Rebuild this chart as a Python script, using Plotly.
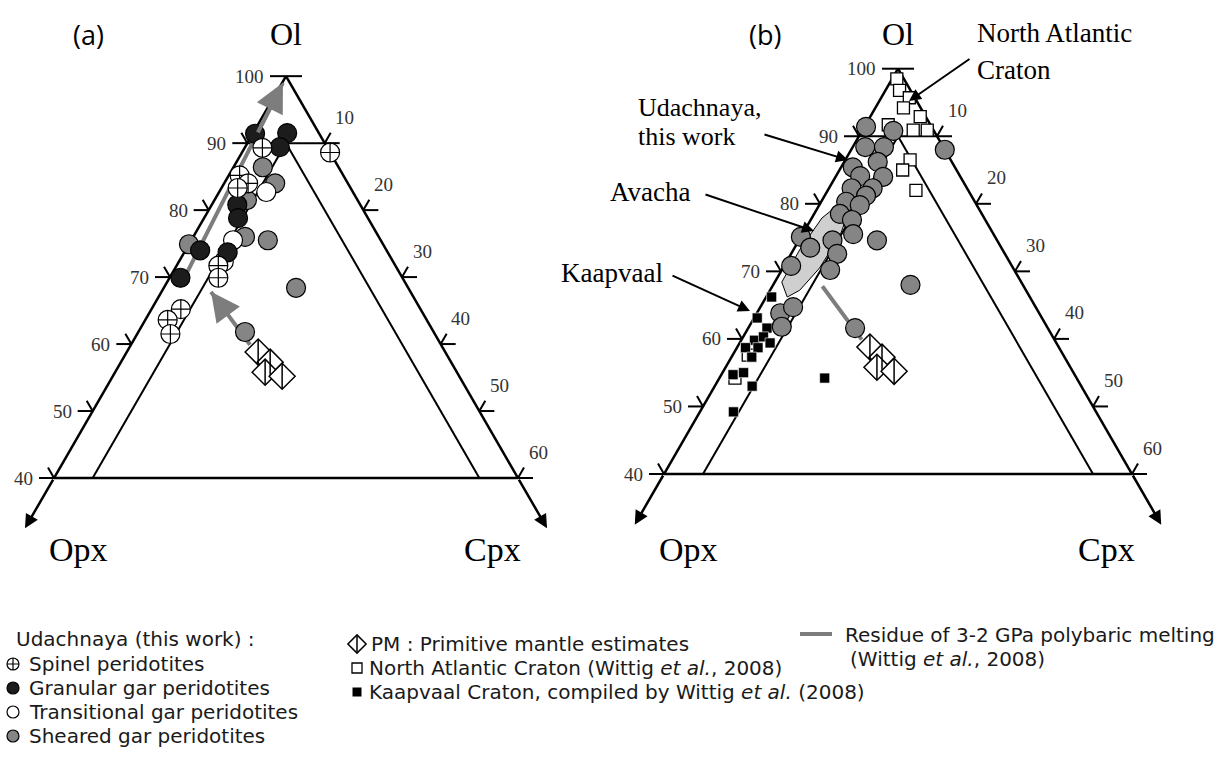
import math
import plotly.graph_objects as go

FIG_W, FIG_H = 1228, 771

# ---------------- data: modal proportions (%) Ol / Opx / Cpx ----------------
# Panel (a): Udachnaya xenoliths by textural group
spinel_ol = [89.3, 85.2, 84.0, 83.3, 88.6, 71.7, 69.9, 65.2, 63.6, 61.5]
spinel_opx = [8.4, 13.4, 12.9, 14.6, 0.0, 22.9, 23.8, 31.0, 33.5, 34.2]
spinel_cpx = [2.3, 1.4, 3.1, 2.1, 11.4, 5.4, 6.3, 3.8, 2.9, 4.3]

granular_ol = [91.4, 91.5, 89.4, 80.8, 78.8, 74.0, 73.7, 69.9]
granular_opx = [8.3, 4.1, 6.1, 15.9, 16.8, 24.1, 20.7, 28.7]
granular_cpx = [0.3, 4.4, 4.5, 3.3, 4.4, 1.9, 5.6, 1.4]

transitional_ol = [82.7, 75.5, 72.3]
transitional_opx = [11.2, 19.1, 21.9]
transitional_cpx = [6.1, 5.4, 5.8]

sheared_ol = [84.0, 86.4, 81.5, 76.0, 75.5, 74.9, 68.4, 61.8]
sheared_opx = [9.4, 9.8, 14.3, 17.3, 14.6, 25.1, 14.5, 24.4]
sheared_cpx = [6.6, 3.8, 4.2, 6.7, 9.9, 0.0, 17.1, 13.8]

# Primitive mantle estimates
pm_ol = [58.8, 57.3, 55.8, 55.2]
pm_opx = [24.2, 23.4, 24.8, 22.9]
pm_cpx = [17.0, 19.3, 19.4, 21.9]

# Residue of 3-2 GPa polybaric melting (two arrowed legs)
residue1_ol = [59.9, 67.8]
residue1_opx = [24.7, 25.8]
residue1_cpx = [15.4, 6.4]
residue2_ol = [68.5, 99.0]
residue2_opx = [29.5, 0.9]
residue2_cpx = [2.0, 0.1]

# Panel (b): Udachnaya (all groups), North Atlantic, Kaapvaal, Avacha field
udach_ol = [91.4, 90.8, 88.4, 88.4, 86.2, 85.4, 84.1, 84.0, 82.3, 82.3, 81.2, 80.3, 78.5, 79.8, 77.6,
            75.1, 73.5, 74.6, 75.5, 74.6, 72.6, 70.8, 70.2, 63.8, 64.7, 61.8, 61.6, 68.0, 88.0]
udach_opx = [8.4, 5.2, 10.0, 7.6, 9.5, 13.1, 12.8, 9.9, 12.1, 14.8, 13.5, 16.5, 18.2, 15.0, 17.1,
             24.9, 24.5, 21.1, 18.0, 15.4, 21.5, 28.3, 23.6, 33.2, 31.1, 34.0, 24.7, 14.4, 0.0]
udach_cpx = [0.2, 4.0, 1.6, 4.0, 4.3, 1.5, 3.1, 6.1, 5.6, 2.9, 5.3, 3.2, 3.3, 5.2, 5.3,
             0.0, 2.0, 4.3, 6.5, 10.0, 5.9, 0.9, 6.2, 3.0, 4.2, 4.2, 13.7, 17.6, 12.0]

nac_ol = [98.5, 96.8, 95.7, 94.2, 92.9, 90.9, 90.9, 91.7, 86.5, 85.0, 82.0, 57.6, 54.2]
nac_opx = [0.9, 1.4, 0.7, 2.2, 0.7, 2.6, 0.8, 5.4, 5.2, 6.9, 6.7, 40.4, 43.8]
nac_cpx = [0.6, 1.8, 3.6, 3.6, 6.4, 6.5, 8.3, 2.9, 8.3, 8.1, 11.3, 2.0, 2.0]

kaap_ol = [66.2, 63.1, 61.6, 59.8, 60.3, 59.4, 58.7, 58.7, 57.3, 54.7, 55.0, 53.0, 49.2, 54.2]
kaap_opx = [33.1, 36.5, 36.0, 38.5, 37.1, 36.7, 40.2, 38.6, 40.1, 43.8, 42.3, 42.2, 46.5, 32.3]
kaap_cpx = [0.7, 0.4, 2.4, 1.7, 2.6, 3.9, 1.1, 2.7, 2.6, 1.5, 2.7, 4.8, 4.3, 13.5]

avacha_ol = [66.2, 68.4, 73.2, 77.9, 79.8, 78.6, 75.4, 70.5, 67.2, 66.2]
avacha_opx = [31.1, 30.7, 26.0, 20.8, 17.8, 17.1, 19.7, 24.8, 29.0, 31.1]
avacha_cpx = [2.7, 0.9, 0.8, 1.3, 2.4, 4.3, 4.9, 4.7, 3.8, 2.7]

# Classification boundaries (dunite, harzburgite|lherzolite, lherzolite|wehrlite)
dunite_ol, dunite_opx, dunite_cpx = [90, 90], [10, 0], [0, 10]
harz_ol, harz_opx, harz_cpx = [90, 40], [5, 55], [5, 5]
wehr_ol, wehr_opx, wehr_cpx = [90, 40], [5, 5], [5, 55]

ol_ticks = [40, 50, 60, 70, 80, 90, 100]
cpx_ticks = [10, 20, 30, 40, 50, 60]

# ---------------- geometry of the two truncated triangles (pixels) ----------------
PANELS = {
    "ternary": dict(x0=54.0, y0=478.0, w=464.0),
    "ternary2": dict(x0=664.0, y0=474.0, w=468.0),
}


def geom(name):
    p = PANELS[name]
    h = p["w"] * math.sqrt(3) / 2
    return dict(bl=(p["x0"], p["y0"]), br=(p["x0"] + p["w"], p["y0"]),
                top=(p["x0"] + p["w"] / 2, p["y0"] - h), h=h, w=p["w"])


def to_px(name, ol, opx, cpx):
    """Ternary point (Ol axis 40-100) -> overlay pixel coordinates."""
    g = geom(name)
    s = ol + opx + cpx
    ol, opx, cpx = 100 * ol / s, 100 * opx / s, 100 * cpx / s
    wa, wb, wc = (ol - 40) / 60, opx / 60, cpx / 60
    x = wa * g["top"][0] + wb * g["bl"][0] + wc * g["br"][0]
    y = wa * g["top"][1] + wb * g["bl"][1] + wc * g["br"][1]
    return x, y


SERIF = "Liberation Serif"
SANS = "Open Sans"
KEY_FONT = "DejaVu Sans"
GRAY_LINE = "#7d7d7d"
GRAY_DOT = "#858585"

fig = go.Figure()


def tern(name, a, b, c, **kw):
    fig.add_trace(go.Scatterternary(subplot=name, a=a, b=b, c=c, cliponaxis=False,
                                    hoverinfo="skip", showlegend=False, **kw))


def field_lines(name):
    for a, b, c in [(dunite_ol, dunite_opx, dunite_cpx), (harz_ol, harz_opx, harz_cpx),
                    (wehr_ol, wehr_opx, wehr_cpx)]:
        tern(name, a, b, c, mode="lines", line=dict(color="black", width=2))


def pm_marks(name):
    tern(name, pm_ol, pm_opx, pm_cpx, mode="markers",
         marker=dict(symbol="diamond", size=20, color="white", line=dict(color="black", width=1.5)))
    tern(name, pm_ol, pm_opx, pm_cpx, mode="markers",
         marker=dict(symbol="line-ns", size=18, line=dict(color="black", width=1.5)))


circle = dict(size=19, line=dict(color="black", width=1.2))

# ---- panel (a)
field_lines("ternary")
tern("ternary", residue1_ol, residue1_opx, residue1_cpx, mode="lines", line=dict(color=GRAY_LINE, width=4))
tern("ternary", residue2_ol, residue2_opx, residue2_cpx, mode="lines", line=dict(color=GRAY_LINE, width=4))
pm_marks("ternary")
tern("ternary", sheared_ol, sheared_opx, sheared_cpx, mode="markers",
     marker=dict(symbol="circle", color=GRAY_DOT, **circle))
tern("ternary", transitional_ol, transitional_opx, transitional_cpx, mode="markers",
     marker=dict(symbol="circle", color="white", **circle))
tern("ternary", granular_ol, granular_opx, granular_cpx, mode="markers",
     marker=dict(symbol="circle", color="#1c1c1c", **circle))
tern("ternary", spinel_ol, spinel_opx, spinel_cpx, mode="markers",
     marker=dict(symbol="circle-cross", color="white", **circle))

# ---- panel (b)
field_lines("ternary2")
tern("ternary2", avacha_ol, avacha_opx, avacha_cpx, mode="lines", fill="toself",
     fillcolor="#cfcfcf", line=dict(color="black", width=1))
tern("ternary2", nac_ol, nac_opx, nac_cpx, mode="markers",
     marker=dict(symbol="square", size=12, color="white", line=dict(color="black", width=1.3)))
tern("ternary2", kaap_ol, kaap_opx, kaap_cpx, mode="markers",
     marker=dict(symbol="square", size=10, color="black", line=dict(color="white", width=0.6)))
tern("ternary2", residue1_ol, residue1_opx, residue1_cpx, mode="lines", line=dict(color=GRAY_LINE, width=4))
tern("ternary2", udach_ol, udach_opx, udach_cpx, mode="markers",
     marker=dict(symbol="circle", color=GRAY_DOT, **circle))
pm_marks("ternary2")

# ---------------- axes decorations: ticks, labels, arrows ----------------
shapes, annotations = [], []
TICK, BARB = 15, 12


def seg(p, q, width=2, color="black"):
    shapes.append(dict(type="line", xref="x", yref="y", x0=p[0], y0=p[1], x1=q[0], y1=q[1],
                       line=dict(color=color, width=width), layer="above"))


def text(x, y, s, size, family=SERIF, anchor="center", color="black"):
    annotations.append(dict(x=x, y=y, xref="x", yref="y", text=s, showarrow=False,
                            xanchor=anchor, yanchor="middle",
                            font=dict(family=family, size=size, color=color)))


def arrow(tail, tip, width=2, color="black", head=2, size=1.0):
    annotations.append(dict(x=tip[0], y=tip[1], ax=tail[0], ay=tail[1], xref="x", yref="y",
                            axref="x", ayref="y", text="", showarrow=True, arrowhead=head,
                            arrowsize=size, arrowwidth=width, arrowcolor=color, standoff=0))


for name in PANELS:
    g = geom(name)
    for ol in ol_ticks:
        px, py = to_px(name, ol, 100 - ol, 0)
        if ol == 100:
            seg((px - 16, py), (px + 16, py))
            text(px - 20, py, str(ol), 19, anchor="right", color="#333")
        else:
            seg((px, py), (px - TICK, py))
            seg((px, py), (px - BARB * 0.5, py - BARB * 0.866))
            text(px - 19, py, str(ol), 19, anchor="right", color="#333")
    for c in cpx_ticks:
        px, py = to_px(name, 100 - c, 0, c)
        seg((px, py), (px + TICK, py))
        seg((px, py), (px + BARB * 0.5, py - BARB * 0.866))
        text(px + 20, py - 26, str(c), 19, color="#333")
    # extended Opx / Cpx axes with arrowheads
    arrow(g["bl"], to_px(name, 32.5, 67.5, 0), width=2.5, size=1.1)
    arrow(g["br"], to_px(name, 32.5, 0, 67.5), width=2.5, size=1.1)
    text(g["top"][0], 34, "Ol", 32)
    text(g["bl"][0] + 24, 549, "Opx", 34)
    text(g["br"][0] - 26, 549, "Cpx", 34)

text(88, 34, "(a)", 27, family=SANS)
text(765, 34, "(b)", 27, family=SANS)

# arrowheads on the melting-residue path in (a)
for ols, opxs, cpxs in [(residue1_ol, residue1_opx, residue1_cpx), (residue2_ol, residue2_opx, residue2_cpx)]:
    f = 0.25
    back = (ols[1] + f * (ols[0] - ols[1]), opxs[1] + f * (opxs[0] - opxs[1]), cpxs[1] + f * (cpxs[0] - cpxs[1]))
    arrow(to_px("ternary", *back), to_px("ternary", ols[1], opxs[1], cpxs[1]),
          width=4, color=GRAY_LINE, size=1.45)

# callouts in (b)
text(636, 107, "Udachnaya,", 26, anchor="left")
text(636, 136, "this work", 26, anchor="left")
arrow((763, 134), (848, 160), width=2, size=1.2)
text(608, 192, "Avacha", 27, anchor="left")
arrow((704, 194), (814, 231), width=2, size=1.2)
text(665, 273, "Kaapvaal", 27, anchor="right")
arrow((671, 275), (750, 311), width=2, size=1.2)
text(975, 33, "North Atlantic", 27, anchor="left")
text(975, 70, "Craton", 27, anchor="left")
arrow((971, 58), (909, 101), width=2, size=1.2)

# ---------------- key ----------------
LEG = 20
LEG_C = "#1a1a1a"


def key_marker(x, y, **marker):
    fig.add_trace(go.Scatter(x=[x], y=[y], xaxis="x", yaxis="y", mode="markers",
                             marker=marker, hoverinfo="skip", showlegend=False))


text(14, 639, "Udachnaya (this work) :", LEG, family=KEY_FONT, anchor="left", color=LEG_C)
key_rows = [
    ("Spinel peridotites", dict(symbol="circle-cross", color="white")),
    ("Granular gar peridotites", dict(symbol="circle", color="#1c1c1c")),
    ("Transitional gar peridotites", dict(symbol="circle", color="white")),
    ("Sheared gar peridotites", dict(symbol="circle", color=GRAY_DOT)),
]
for i, (label, m) in enumerate(key_rows):
    y = 664 + 24 * i
    key_marker(13, y, size=12, line=dict(color="black", width=1.2), **m)
    text(27, y, label, LEG, family=KEY_FONT, anchor="left", color=LEG_C)

key_marker(357, 644, symbol="diamond", size=14, color="white", line=dict(color="black", width=1.5))
key_marker(357, 644, symbol="line-ns", size=13, line=dict(color="black", width=1.5))
text(369, 644, "PM : Primitive mantle estimates", LEG, family=KEY_FONT, anchor="left", color=LEG_C)
key_marker(357, 668, symbol="square", size=10, color="white", line=dict(color="black", width=1.3))
text(367, 668, "North Atlantic Craton (Wittig <i>et al.</i>, 2008)", LEG, family=KEY_FONT, anchor="left", color=LEG_C)
key_marker(357, 692, symbol="square", size=9, color="black", line=dict(color="black", width=0))
text(367, 692, "Kaapvaal Craton, compiled by Wittig <i>et al.</i> (2008)", LEG, family=KEY_FONT, anchor="left", color=LEG_C)

fig.add_trace(go.Scatter(x=[800, 832], y=[634, 634], xaxis="x", yaxis="y", mode="lines",
                         line=dict(color=GRAY_LINE, width=4), hoverinfo="skip", showlegend=False))
text(843, 635, "Residue of 3-2 GPa polybaric melting", LEG, family=KEY_FONT, anchor="left", color=LEG_C)
text(848, 659, "(Wittig <i>et al.</i>, 2008)", LEG, family=KEY_FONT, anchor="left", color=LEG_C)

# ---------------- layout ----------------
axis_common = dict(showgrid=False, showticklabels=False, ticks="", linecolor="black",
                   linewidth=2.5, layer="below traces", title=dict(text=""))


def ternary_layout(name):
    g = geom(name)
    return dict(
        sum=100, bgcolor="rgba(0,0,0,0)",
        domain=dict(x=[g["bl"][0] / FIG_W, g["br"][0] / FIG_W],
                    y=[(FIG_H - g["bl"][1]) / FIG_H, (FIG_H - g["bl"][1] + g["h"]) / FIG_H]),
        aaxis=dict(min=40, **axis_common),
        baxis=dict(min=0, **axis_common),
        caxis=dict(min=0, **axis_common),
    )


fig.update_layout(
    width=FIG_W, height=FIG_H, autosize=False,
    margin=dict(l=0, r=0, t=0, b=0, pad=0),
    paper_bgcolor="white", plot_bgcolor="rgba(0,0,0,0)",
    showlegend=False,
    ternary=ternary_layout("ternary"),
    ternary2=ternary_layout("ternary2"),
    xaxis=dict(range=[0, FIG_W], domain=[0, 1], visible=False, fixedrange=True),
    yaxis=dict(range=[FIG_H, 0], domain=[0, 1], visible=False, fixedrange=True),
    shapes=shapes,
    annotations=annotations,
)

fig.write_html("out.html")
